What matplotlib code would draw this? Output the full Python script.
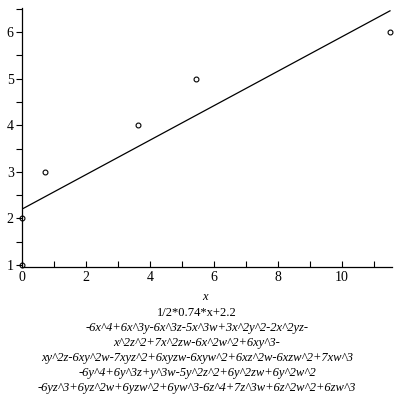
import matplotlib
matplotlib.use('Agg')
import matplotlib.pyplot as plt
import numpy as np

# data points
px = [0.0, 0.0, 0.72, 3.64, 5.44, 11.5]
py = [1, 2, 3, 4, 5, 6]

slope = 0.5 * 0.74
intercept = 2.2

caption = [
    "1/2*0.74*x+2.2",
    "-6x^4+6x^3y-6x^3z-5x^3w+3x^2y^2-2x^2yz-",
    "x^2z^2+7x^2zw-6x^2w^2+6xy^3-",
    "xy^2z-6xy^2w-7xyz^2+6xyzw-6xyw^2+6xz^2w-6xzw^2+7xw^3",
    "-6y^4+6y^3z+y^3w-5y^2z^2+6y^2zw+6y^2w^2",
    "-6yz^3+6yz^2w+6yzw^2+6yw^3-6z^4+7z^3w+6z^2w^2+6zw^3",
]

plt.rcParams['font.family'] = ['Liberation Serif', 'DejaVu Serif']

fig = plt.figure(figsize=(4, 4), dpi=100)
ax = fig.add_axes([0.055, 1 - 266.9 / 400, 11.55 * 32 / 400, (266.9 - 7.8) / 400])

xs = np.linspace(0, 11.5, 100)
ax.plot(xs, slope * xs + intercept, color='black', lw=0.9)
ax.plot(px, py, 'o', ms=3.5, mfc='none', mec='black', mew=0.8, clip_on=False)

ax.set_xlim(0, 11.55)
ax.set_ylim(0.96, 6.52)
for s in ['top', 'right']:
    ax.spines[s].set_visible(False)
ax.spines['left'].set_position(('data', 0))
ax.spines['bottom'].set_position(('data', 0.96))
for s in ['left', 'bottom']:
    ax.spines[s].set_linewidth(0.9)

ax.set_xticks(np.arange(0, 12, 2))
ax.set_xticks(np.arange(1, 12, 2), minor=True)
ax.set_yticks(np.arange(1, 7))
ax.set_yticks(np.arange(1.5, 6.6, 1), minor=True)
ax.tick_params(axis='x', which='both', direction='in', length=4, width=0.8,
               labelsize=10, pad=3)
ax.tick_params(axis='y', which='both', direction='out', length=4, width=0.8,
               labelsize=10, pad=2)

fig.text(205 / 400, 1 - 297 / 400, "x", ha='center', va='center',
         fontsize=9, style='italic')
for i, line in enumerate(caption):
    fig.text(197 / 400, 1 - (313 + 15 * i) / 400, line, ha='center',
             va='center', fontsize=9, style='normal' if i == 0 else 'italic')

fig.savefig('out.png', dpi=100)
